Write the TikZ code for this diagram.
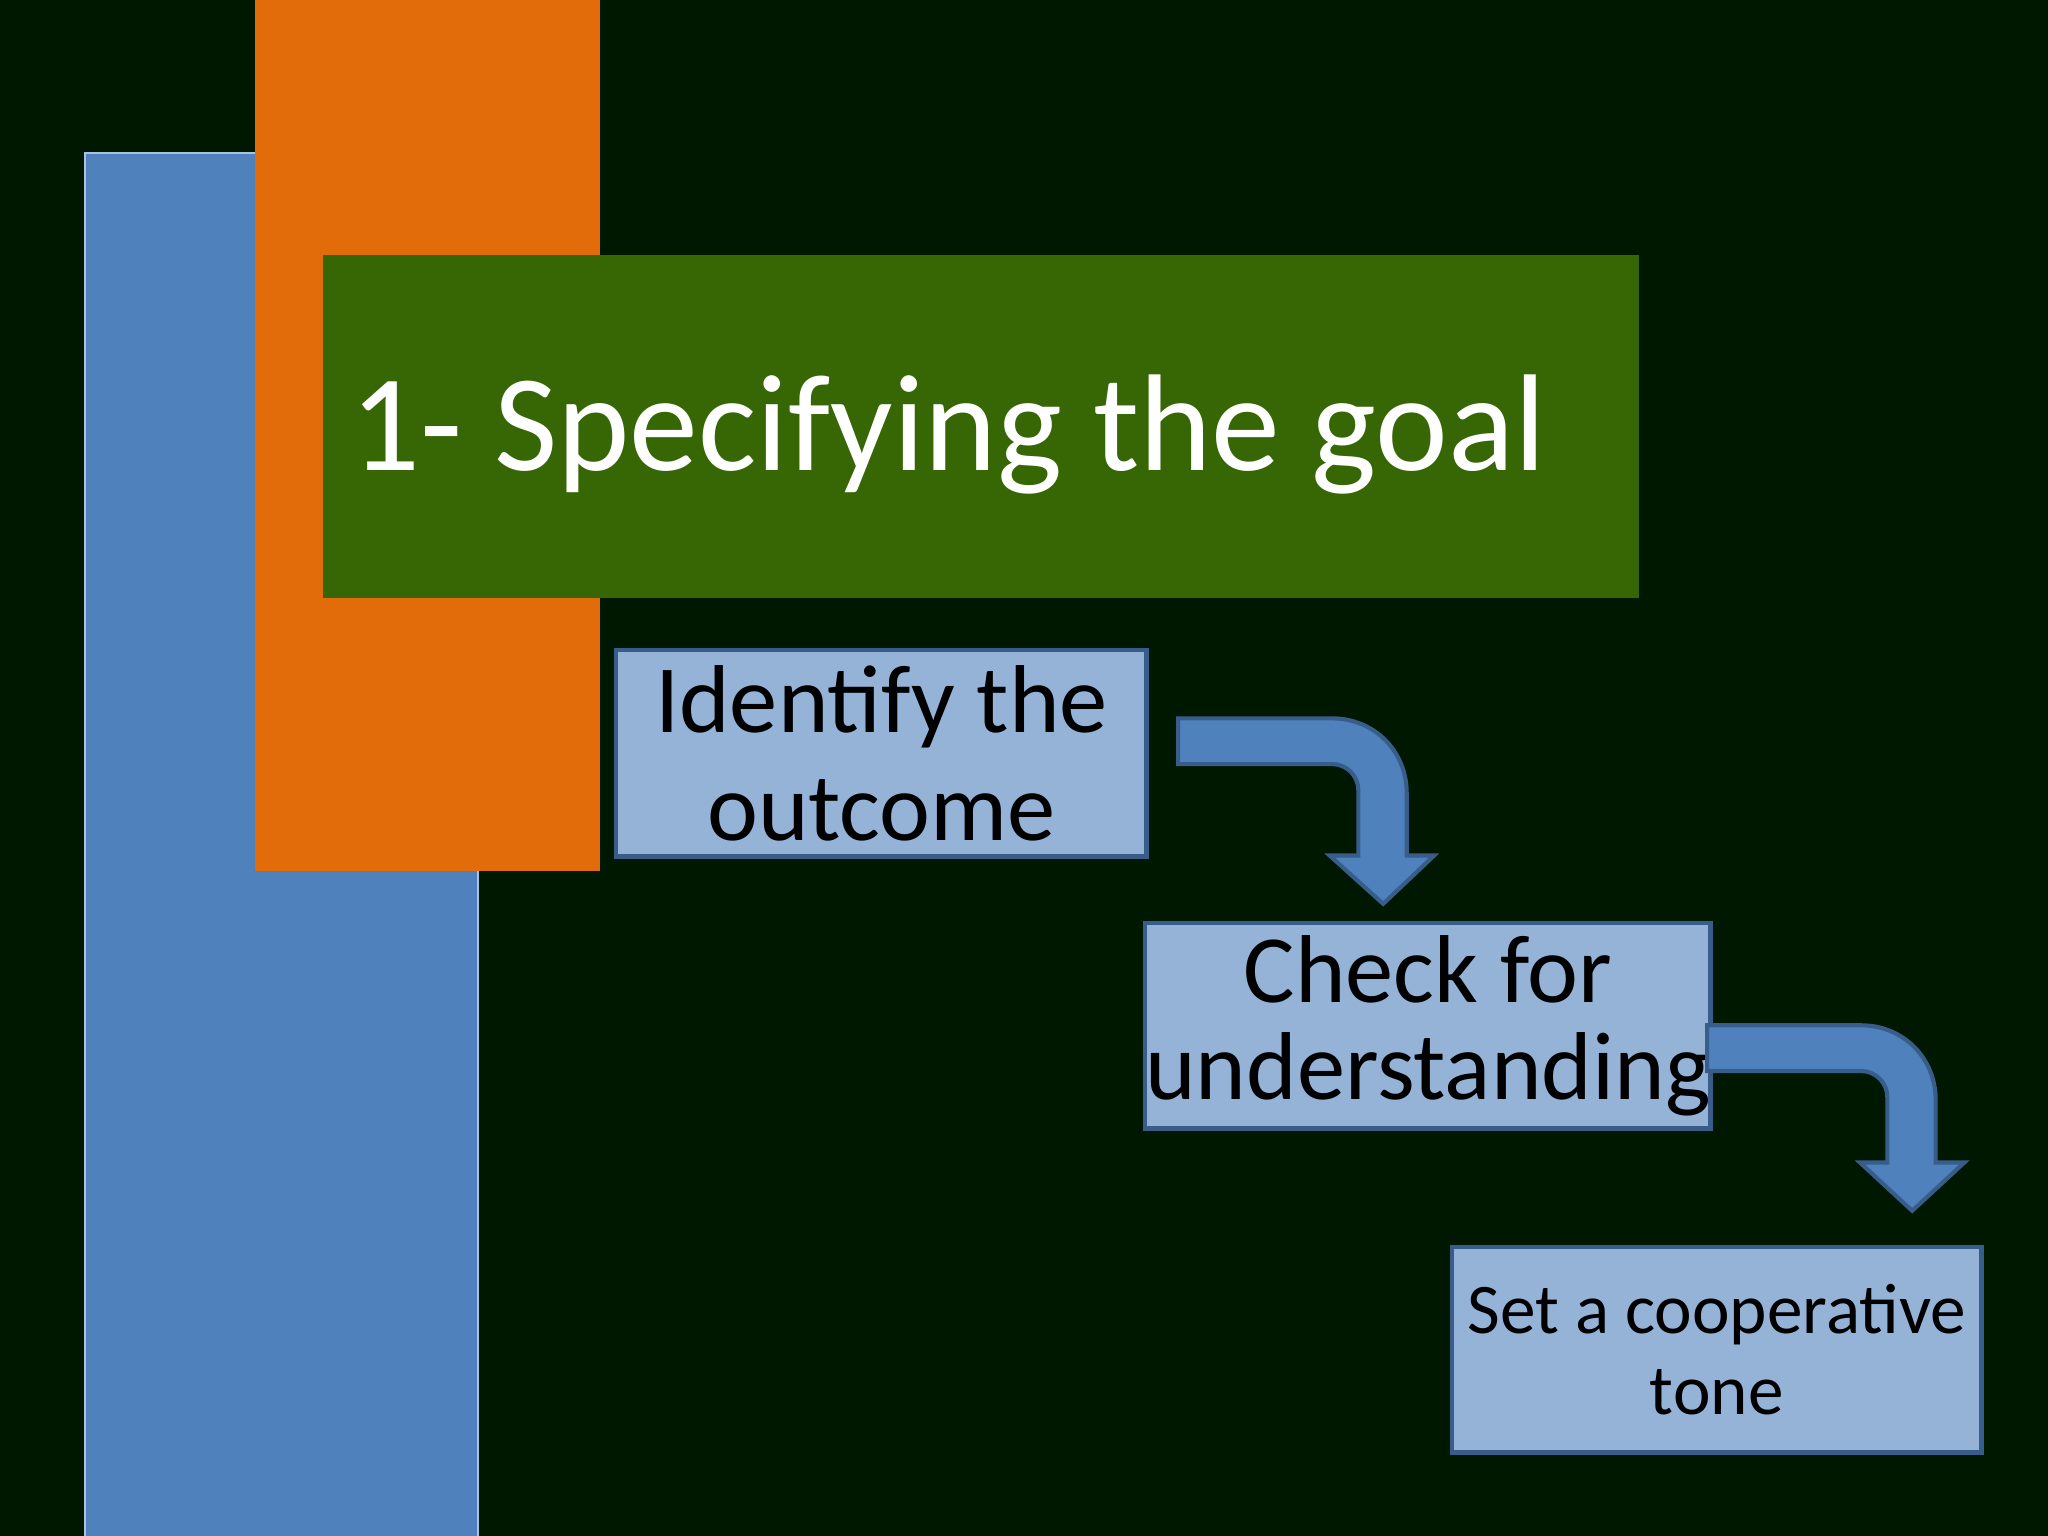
\documentclass[tikz,border=0pt]{standalone}
\usepackage{fontspec}
\setmainfont{Carlito}
\definecolor{bg}{HTML}{001800}
\definecolor{bblue}{HTML}{4F81BD}
\definecolor{orng}{HTML}{E36C0A}
\definecolor{tgreen}{HTML}{376604}
\definecolor{lblue}{HTML}{95B3D7}
\definecolor{dblue}{HTML}{385D8A}
\tikzset{
  stepbox/.style={draw=dblue,line width=1pt,fill=lblue,text=black,align=center,anchor=north west,inner sep=0pt},
  bentarrow/.style={fill=bblue,draw=dblue,line width=0.9pt,line join=miter}
}
\begin{document}
\begin{tikzpicture}[x=0.01cm,y=-0.01cm]
\fill[bg] (0,0) rectangle (1568,1176);
\useasboundingbox (0,0) rectangle (1568,1176);
\fill[bblue,draw=lblue!80,line width=0.5pt] (65,117) rectangle (366,1178);
\fill[orng] (195,-2) rectangle (459,667);
\fill[tgreen] (247,195) rectangle (1255,458);
\node[anchor=base west,text=white,font=\fontsize{30}{36}\selectfont,inner sep=0pt] (title) at (268,360) {1- Specifying the goal};
\node[stepbox,minimum width=4.06cm,minimum height=1.58cm,font=\fontsize{21}{23.5}\selectfont] (b1) at (470,496) {Identify the\\outcome};
\node[stepbox,minimum width=4.05cm,minimum height=1.57cm,font=\fontsize{21}{21}\selectfont] (b2) at (875,705) {Check for\\understanding};
\node[stepbox,minimum width=4.05cm,minimum height=1.57cm,font=\fontsize{15.5}{17.5}\selectfont] (b3) at (1110,953) {Set a cooperative\\tone};
\draw[bentarrow] (902,550) -- (1020,550) .. controls (1052,550) and (1077,575) .. (1077,607) -- (1077,655) -- (1098,655) -- (1059,692) -- (1018,655) -- (1040,655) -- (1040,605) .. controls (1040,594) and (1031,585) .. (1020,585) -- (902,585) -- cycle;
\draw[bentarrow] (1307,785) -- (1425,785) .. controls (1457,785) and (1482,810) .. (1482,842) -- (1482,890) -- (1504,890) -- (1464,927) -- (1424,890) -- (1445,890) -- (1445,840) .. controls (1445,829) and (1436,820) .. (1425,820) -- (1307,820) -- cycle;
\end{tikzpicture}
\end{document}
